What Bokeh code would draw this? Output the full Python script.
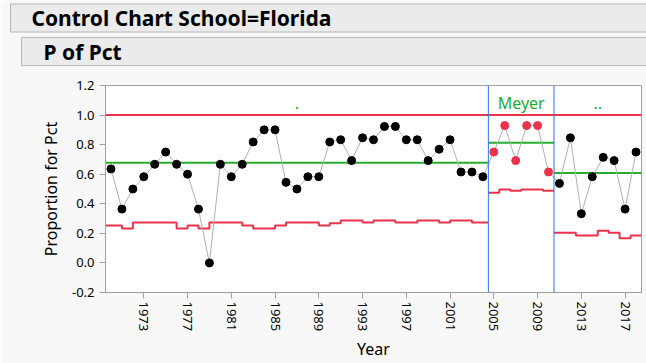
from bokeh.plotting import figure
from bokeh.models import Range1d, FixedTicker, Span, PrintfTickFormatter, Title
from bokeh.embed import file_html
from bokeh.resources import INLINE
from bokeh.core.properties import value

# ---------------- data ----------------
years = list(range(1970, 2019))
pct = [0.636, 0.364, 0.500, 0.583, 0.667, 0.750, 0.667, 0.600, 0.364, 0.000,
       0.667, 0.583, 0.667, 0.818, 0.900, 0.900, 0.545, 0.500, 0.583, 0.583,
       0.818, 0.833, 0.692, 0.846, 0.833, 0.923, 0.923, 0.833, 0.833, 0.692,
       0.769, 0.833, 0.615, 0.615, 0.583,
       0.750, 0.929, 0.692, 0.929, 0.929, 0.615,
       0.538, 0.846, 0.333, 0.583, 0.714, 0.692, 0.364, 0.750]
lcl = [0.253, 0.253, 0.233, 0.273, 0.273, 0.273, 0.273, 0.233, 0.253, 0.233,
       0.273, 0.273, 0.273, 0.253, 0.233, 0.233, 0.253, 0.273, 0.273, 0.273,
       0.253, 0.268, 0.287, 0.287, 0.273, 0.287, 0.287, 0.273, 0.273, 0.287,
       0.287, 0.273, 0.287, 0.287, 0.273,
       0.474, 0.497, 0.488, 0.497, 0.497, 0.488,
       0.204, 0.204, 0.186, 0.186, 0.218, 0.204, 0.167, 0.186]
phase_names = [".", "Meyer", ".."]
phase_first_year = [1970, 2005, 2011]
phase_last_year = [2004, 2010, 2018]
phase_center = [0.677, 0.812, 0.608]
phase_ucl = [1.0, 1.0, 1.0]
phase_step_mode = ["before", "center", "center"]
phase_point_color = ["#000000", "#e8334a", "#000000"]
x_ticks = [1973, 1977, 1981, 1985, 1989, 1993, 1997, 2001, 2005, 2009, 2013, 2017]
x_tick_labels = ["1973", "1977", "1981", "1985", "1989", "1993", "1997", "2001",
                 "2005", "2009", "2013", "2017"]
y_ticks = [-0.2, 0.0, 0.2, 0.4, 0.6, 0.8, 1.0, 1.2]
y_tick_labels = ["-0.2", "0.0", "0.2", "0.4", "0.6", "0.8", "1.0", "1.2"]
title_main = "Control Chart School=Florida"
title_sub = "P of Pct"
x_label = "Year"
y_label = "Proportion for Pct"

# ---------------- style ----------------
FONT = "Noto Sans"
BG = "#f8f8f8"
RED = "#e8334a"
GREEN = "#25ad2f"
BLUE = "#2f6df2"
GRAY = "#b0b0b0"
AXIS = "#a0a0a0"
W = 646
H = 363
LEFT = 105

x_lo = years[0] - 0.5
x_hi = years[-1] + 0.5
p = figure(width=W, height=H, x_range=Range1d(x_lo, x_hi), y_range=Range1d(y_ticks[0], y_ticks[-1]),
           output_backend="svg", toolbar_location=None, title=None,
           min_border_left=LEFT, min_border_right=5, min_border_top=85, min_border_bottom=70)
p.grid.visible = False
p.background_fill_color = "#ffffff"
p.border_fill_color = BG
p.outline_line_color = AXIS
p.outline_line_width = 1

# ---------------- header bars (titles with padded background) ----------------
bar_style = dict(text_font=FONT, text_font_size="21px", text_font_style="bold", text_color="#000000",
                 background_fill_color="#ebebeb", border_line_color="#b8b8b8", border_line_width=1,
                 align="left", vertical_align="bottom")
spacer = Title(text=" ", text_font_size="2px", standoff=12.3)
t_sub = Title(text=title_sub, offset=21 - LEFT, standoff=6, padding=(22, 560, 0, 0), **bar_style)
t_main = Title(text=title_main, offset=10 - LEFT, standoff=1, padding=(21, 380, 0, 0), **bar_style)
p.add_layout(spacer, "above")
p.add_layout(t_sub, "above")
p.add_layout(t_main, "above")

# ---------------- axes ----------------
for ax in (p.xaxis[0], p.yaxis[0]):
    ax.axis_line_color = AXIS
    ax.major_tick_line_color = AXIS
    ax.minor_tick_line_color = None
    ax.major_tick_out = 6
    ax.major_tick_in = 0
    ax.major_label_text_font = FONT
    ax.major_label_text_font_size = "13px"
    ax.major_label_text_color = "#000000"
    ax.axis_label_text_font = FONT
    ax.axis_label_text_font_size = "16px"
    ax.axis_label_text_font_style = "normal"
    ax.axis_label_text_color = "#000000"

p.xaxis.ticker = FixedTicker(ticks=x_ticks, minor_ticks=[])
p.xaxis.major_label_overrides = dict(zip(x_ticks, x_tick_labels))
p.xaxis.major_label_orientation = "vertical"
p.xaxis.major_label_standoff = 3
p.xaxis.axis_label = x_label
p.xaxis.axis_label_standoff = 4

p.yaxis.ticker = FixedTicker(ticks=y_ticks, minor_ticks=[])
p.yaxis.formatter = PrintfTickFormatter(format="%.1f")
p.yaxis.major_label_overrides = dict(zip(y_ticks, y_tick_labels))
p.yaxis.major_label_standoff = 5
p.yaxis.axis_label = y_label
p.yaxis.axis_label_standoff = 7

# ---------------- phases ----------------
bounds = [x_lo] + [(phase_last_year[i] + phase_first_year[i + 1]) / 2 for i in range(len(phase_names) - 1)] + [x_hi]
for i in range(len(phase_names)):
    a, b = bounds[i], bounds[i + 1]
    idx = [k for k, yr in enumerate(years) if phase_first_year[i] <= yr <= phase_last_year[i]]
    xs, ys = [], []
    if phase_step_mode[i] == "before":
        xs.append(a); ys.append(lcl[idx[0]])
        for j, k in enumerate(idx):
            xs.append(years[k]); ys.append(lcl[k])
            if j + 1 < len(idx):
                xs.append(years[k]); ys.append(lcl[idx[j + 1]])
        xs.append(b); ys.append(lcl[idx[-1]])
    else:
        for j, k in enumerate(idx):
            left = a if j == 0 else years[k] - 0.5
            right = b if j == len(idx) - 1 else years[k] + 0.5
            xs += [left, right]; ys += [lcl[k], lcl[k]]
    p.line(xs, ys, line_color=RED, line_width=2)
    p.line([a, b], [phase_ucl[i], phase_ucl[i]], line_color=RED, line_width=2)
    p.line([a, b], [phase_center[i], phase_center[i]], line_color=GREEN, line_width=2)

for bnd in bounds[1:-1]:
    p.add_layout(Span(location=bnd, dimension="height", line_color=BLUE, line_width=1))

centers = [(bounds[i] + bounds[i + 1]) / 2 for i in range(len(phase_names))]
p.text(x=centers, y=[1.085] * len(phase_names), text=phase_names, text_font=value(FONT),
       text_font_size="16px", text_color=GREEN, text_align="center", text_baseline="alphabetic")

p.line(years, pct, line_color=GRAY, line_width=1)
colors = []
for yr in years:
    for i in range(len(phase_names)):
        if phase_first_year[i] <= yr <= phase_last_year[i]:
            colors.append(phase_point_color[i])
p.scatter(years, pct, size=8, fill_color=colors, line_color=colors)

open("out.html", "w").write(file_html(p, INLINE))
